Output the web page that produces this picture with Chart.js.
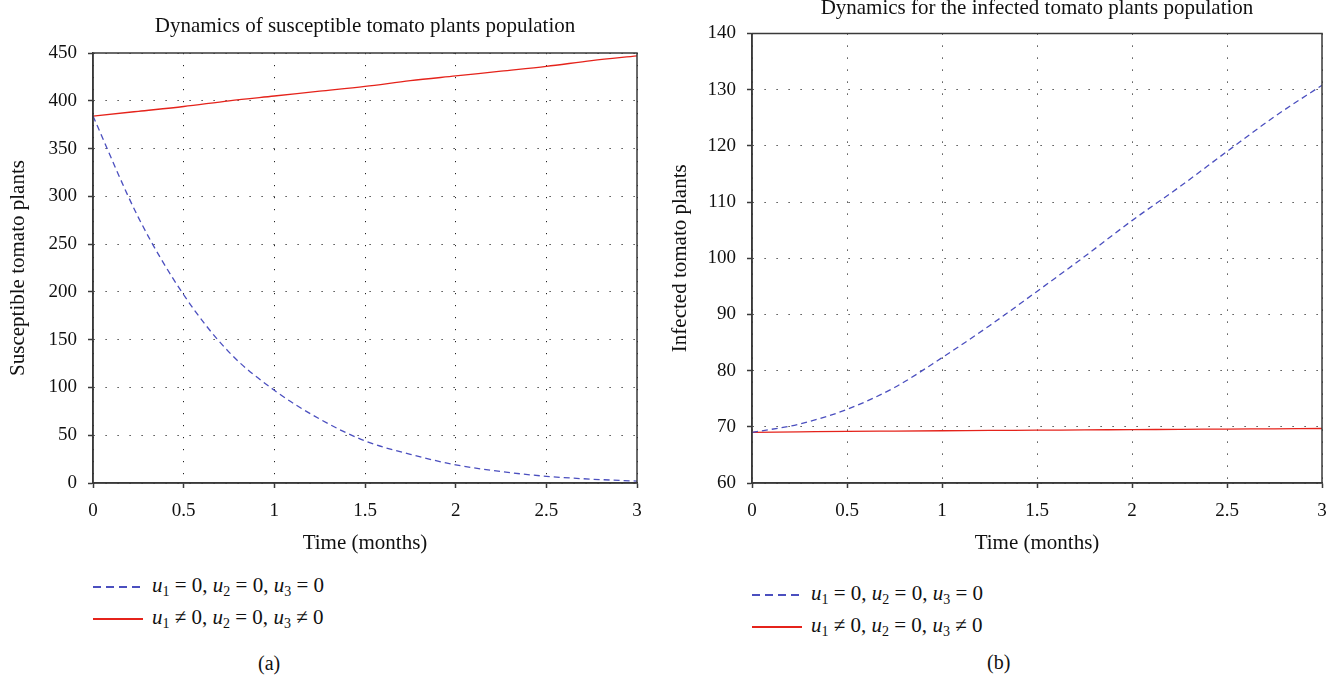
<!DOCTYPE html>
<html>
<head>
<meta charset="utf-8">
<script src="https://cdn.jsdelivr.net/npm/chart.js@4.4.0/dist/chart.umd.min.js"></script>
<style>
  body { margin: 0; background: #fff; width: 1329px; height: 675px; overflow: hidden; position: relative;
         font-family: "Liberation Serif", "DejaVu Serif", serif; color: #111; }
  .box { position: absolute; }
  .legend { position: absolute; font-size: 21px; line-height: 1; }
  .legend div { height: 32px; display: flex; align-items: center; }
  .legend span.ln { display: inline-block; width: 50px; height: 1.5px; margin-right: 9px; }
  .legend span.dash { background: repeating-linear-gradient(to right, #4b4fbf 0 8px, transparent 8px 13px); }
  .legend span.solid { background: #e5231b; }
  .legend i { font-style: italic; }
  .legend sub { font-size: 14px; vertical-align: -4px; }
  .cap { position: absolute; font-size: 20px; }
</style>
</head>
<body>
<div class="box" style="left:0;top:0;width:660px;height:560px"><canvas id="chartA"></canvas></div>
<div class="box" style="left:660px;top:-10px;width:669px;height:570px"><canvas id="chartB"></canvas></div>

<div class="legend" style="left:93px;top:571px">
  <div><span class="ln dash"></span><span><i>u</i><sub>1</sub> = 0, <i>u</i><sub>2</sub> = 0, <i>u</i><sub>3</sub> = 0</span></div>
  <div><span class="ln solid"></span><span><i>u</i><sub>1</sub> ≠ 0, <i>u</i><sub>2</sub> = 0, <i>u</i><sub>3</sub> ≠ 0</span></div>
</div>
<div class="legend" style="left:752px;top:579px">
  <div><span class="ln dash"></span><span><i>u</i><sub>1</sub> = 0, <i>u</i><sub>2</sub> = 0, <i>u</i><sub>3</sub> = 0</span></div>
  <div><span class="ln solid"></span><span><i>u</i><sub>1</sub> ≠ 0, <i>u</i><sub>2</sub> = 0, <i>u</i><sub>3</sub> ≠ 0</span></div>
</div>
<div class="cap" style="left:258px;top:652px">(a)</div>
<div class="cap" style="left:987px;top:651px">(b)</div>

<script>
// time points (months)
const months = [0, 0.25, 0.5, 0.75, 1, 1.25, 1.5, 1.75, 2, 2.25, 2.5, 2.75, 3];
const xTicks = [0, 0.5, 1, 1.5, 2, 2.5, 3];

// (a) susceptible plants
const susNoControl = [384, 278, 197, 137, 97, 67, 44, 30, 19, 12, 7, 4, 2];
const susControl = [384, 389, 394, 400, 405, 410, 415, 421, 426, 431, 436, 442, 447];

// (b) infected plants
const infNoControl = [69, 70.5, 73.1, 77, 82.3, 88, 94.1, 100.3, 106.7, 112.7, 119, 125.2, 130.8];
const infControl = [69, 69.1, 69.2, 69.25, 69.3, 69.35, 69.4, 69.45, 69.5, 69.55, 69.6, 69.65, 69.7];

const labelNoControl = 'u₁ = 0, u₂ = 0, u₃ = 0';
const labelControl = 'u₁ ≠ 0, u₂ = 0, u₃ ≠ 0';

const blue = '#4b4fbf';
const red = '#e5231b';
const axisCol = '#3a3a3a';
const fontFam = '"Liberation Serif", "DejaVu Serif", serif';

const frame = {
  id: 'frame',
  afterDraw(c) {
    const a = c.chartArea, ctx = c.ctx;
    ctx.save();
    ctx.strokeStyle = axisCol;
    ctx.lineWidth = 1.5;
    ctx.strokeRect(a.left, a.top, a.right - a.left, a.bottom - a.top);
    ctx.restore();
  }
};

function pts(ys) {
  return months.map((t, i) => ({ x: t, y: ys[i] }));
}

function makeChart(id, opt) {
  const ctx = document.getElementById(id).getContext('2d');
  return new Chart(ctx, {
    type: 'line',
    data: {
      datasets: [{
        label: labelNoControl,
        data: pts(opt.noControl),
        borderColor: blue,
        borderWidth: 1.3,
        borderDash: [6, 4],
        pointRadius: 0,
        cubicInterpolationMode: 'monotone',
        fill: false
      }, {
        label: labelControl,
        data: pts(opt.control),
        borderColor: red,
        borderWidth: 1.3,
        pointRadius: 0,
        cubicInterpolationMode: 'monotone',
        fill: false
      }]
    },
    options: {
      responsive: true,
      maintainAspectRatio: false,
      animation: false,
      layout: { padding: { left: 0, right: opt.padRight, top: 0, bottom: 0 } },
      plugins: {
        legend: { display: false },
        tooltip: { enabled: false },
        title: {
          display: true,
          fullSize: false,
          text: opt.title,
          color: '#111',
          font: { family: fontFam, size: 21, weight: 'normal', lineHeight: 1.2 },
          padding: { top: opt.titleTop, bottom: opt.titleBottom }
        }
      },
      scales: {
        x: {
          type: 'linear',
          min: 0, max: 3,
          afterBuildTicks: s => { s.ticks = xTicks.map(v => ({ value: v })); },
          afterFit: s => { s.height = opt.xHeight; s.paddingLeft = 0; s.paddingRight = 0; },
          ticks: { color: '#111', font: { family: fontFam, size: 19 }, padding: 12, maxRotation: 0,
                   callback: v => String(v) },
          grid: { color: '#222', lineWidth: 1, tickLength: 5, tickColor: axisCol, tickWidth: 1.5 },
          border: { color: axisCol, width: 1.5, dash: [1.2, 10.8] },
          title: { display: true, text: 'Time (months)', color: '#111',
                   font: { family: fontFam, size: 21 }, padding: { top: 0, bottom: 4 } }
        },
        y: {
          min: opt.yMin, max: opt.yMax,
          afterFit: s => { s.width = opt.yWidth; s.paddingTop = 0; s.paddingBottom = 0; },
          ticks: { stepSize: opt.yStep, color: '#111', font: { family: fontFam, size: 19 }, padding: 11 },
          grid: { color: '#222', lineWidth: 1, tickLength: 5, tickColor: axisCol, tickWidth: 1.5 },
          border: { color: axisCol, width: 1.5, dash: [1.2, 10.8] },
          title: { display: true, text: opt.yTitle, color: '#111',
                   font: { family: fontFam, size: 21 }, padding: { top: opt.yTitlePad, bottom: 0 } }
        }
      }
    },
    plugins: [frame]
  });
}

makeChart('chartA', {
  title: 'Dynamics of susceptible tomato plants population',
  yTitle: 'Susceptible tomato plants',
  noControl: susNoControl, control: susControl,
  yMin: 0, yMax: 450, yStep: 50,
  titleTop: 13.4, titleBottom: 14.4,
  xHeight: 77, yWidth: 93, padRight: 23, yTitlePad: 5.5
});

makeChart('chartB', {
  title: 'Dynamics for the infected tomato plants population',
  yTitle: 'Infected tomato plants',
  noControl: infNoControl, control: infControl,
  yMin: 60, yMax: 140, yStep: 10,
  titleTop: 5.5, titleBottom: 12.8,
  xHeight: 77, yWidth: 92, padRight: 7, yTitlePad: 7.5
});
</script>
</body>
</html>
